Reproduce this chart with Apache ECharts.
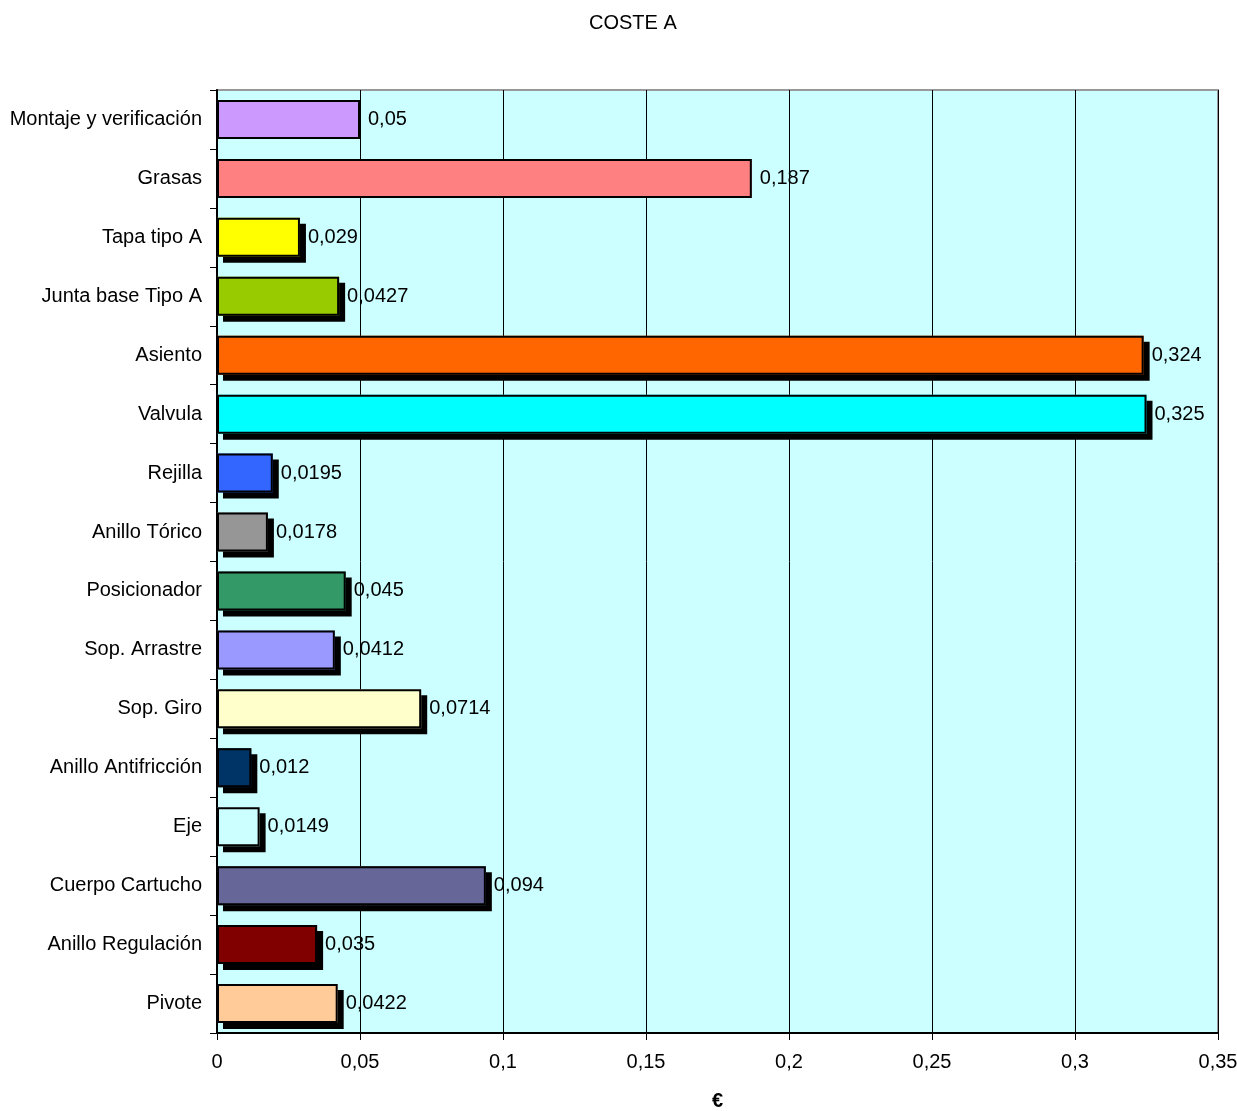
<!DOCTYPE html>
<html>
<head>
<meta charset="utf-8">
<script src="https://cdn.jsdelivr.net/npm/echarts@6/dist/echarts.min.js"></script>
<style>
  html, body { margin: 0; padding: 0; background: #fff; }
  #main { width: 1237px; height: 1111px; }
</style>
</head>
<body>
<div id="main"></div>
<script>
// categorias, de arriba a abajo
var categorias = ['Montaje y verificación', 'Grasas', 'Tapa tipo A', 'Junta base Tipo A', 'Asiento',
  'Valvula', 'Rejilla', 'Anillo Tórico', 'Posicionador', 'Sop. Arrastre', 'Sop. Giro',
  'Anillo Antifricción', 'Eje', 'Cuerpo Cartucho', 'Anillo Regulación', 'Pivote'];
var costes = [0.05, 0.187, 0.029, 0.0427, 0.324, 0.325, 0.0195, 0.0178, 0.045, 0.0412, 0.0714,
  0.012, 0.0149, 0.094, 0.035, 0.0422];
var colores = ['#CC99FF', '#FF8080', '#FFFF00', '#99CC00', '#FF6600', '#00FFFF', '#3366FF', '#969696',
  '#339966', '#9999FF', '#FFFFCC', '#003366', '#CCFFFF', '#666699', '#800000', '#FFCC99'];
// las dos primeras barras no llevan sombra
var conSombra = [false, false, true, true, true, true, true, true, true, true, true, true, true, true, true, true];

function coma(v) { return String(v).replace('.', ','); }

// relleno (con sombra) y borde por separado, para que la sombra sea solo un bloque negro
var relleno = [];
var borde = [];
for (var i = 0; i < costes.length; i++) {
  relleno.push({
    value: costes[i],
    itemStyle: {
      color: colores[i],
      shadowColor: conSombra[i] ? '#000' : 'rgba(0,0,0,0)',
      shadowBlur: 0,
      shadowOffsetX: conSombra[i] ? 6 : 0,
      shadowOffsetY: conSombra[i] ? 6 : 0
    }
  });
  borde.push(costes[i]);
}

var chart = echarts.init(document.getElementById('main'));
var option = {
  animation: false,
  textStyle: { fontFamily: 'Liberation Sans, Arial, sans-serif' },
  title: {
    text: 'COSTE A',
    left: 584, top: 8,
    textStyle: { fontSize: 20, fontWeight: 'normal', color: '#000' }
  },
  grid: {
    left: 217, right: 19, top: 90, bottom: 78,
    outerBoundsMode: 'none',
    containLabel: false,
    show: true, backgroundColor: '#CCFFFF', borderColor: '#999', borderWidth: 2
  },
  xAxis: {
    type: 'value', min: 0, max: 0.35, interval: 0.05,
    name: '€', nameLocation: 'middle', nameGap: 58,
    nameTextStyle: { fontSize: 20, fontWeight: 'bold', color: '#000' },
    axisLine: { show: true, lineStyle: { color: '#000', width: 2 } },
    axisTick: { show: true, length: 7, lineStyle: { color: '#000' } },
    axisLabel: { fontSize: 20, color: '#000', margin: 19, formatter: function (v) { return coma(v); } },
    splitLine: { show: true, lineStyle: { color: '#000', width: 1 } }
  },
  yAxis: {
    type: 'category', data: categorias, inverse: true,
    axisLine: { show: true, lineStyle: { color: '#000', width: 2 } },
    axisTick: { show: true, length: 7, lineStyle: { color: '#000' } },
    axisLabel: { fontSize: 20, color: '#000', margin: 15 }
  },
  series: [{
    type: 'bar',
    data: relleno,
    barWidth: 39,
    silent: true
  }, {
    type: 'bar',
    data: borde,
    barWidth: 39,
    barGap: '-100%',
    itemStyle: { color: 'rgba(0,0,0,0)', borderColor: '#000', borderWidth: 2 },
    label: {
      show: true, position: 'right', distance: 8,
      fontSize: 20, color: '#000',
      formatter: function (p) { return coma(p.value); }
    }
  }]
};
chart.setOption(option);
</script>
</body>
</html>
